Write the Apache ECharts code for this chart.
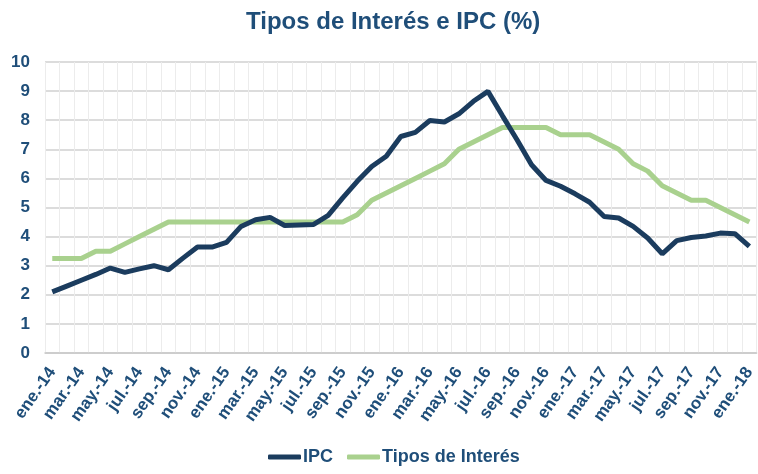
<!DOCTYPE html>
<html><head><meta charset="utf-8">
<script src="https://cdn.jsdelivr.net/npm/echarts@6/dist/echarts.min.js"></script>
<style>html,body{margin:0;padding:0;background:#fff}#c{width:758px;height:474px}</style>
</head><body><div id="c"></div>
<script>
const months = ['ene.','feb.','mar.','abr.','may.','jun.','jul.','ago.','sep.','oct.','nov.','dic.'];
const categories = [];
for (let y = 14; y <= 18; y++) for (let m = 0; m < 12; m++) { if (y === 18 && m > 0) break; categories.push(months[m] + '-' + y); }
const ipc = [2.1,2.3,2.5,2.7,2.92,2.77,2.89,3.0,2.86,3.26,3.64,3.64,3.8,4.35,4.58,4.66,4.38,4.4,4.42,4.73,5.33,5.9,6.41,6.76,7.44,7.58,7.99,7.94,8.22,8.65,8.99,8.15,7.33,6.47,5.93,5.73,5.47,5.18,4.69,4.64,4.35,3.95,3.41,3.86,3.97,4.02,4.12,4.1,3.66];
const tipos = [3.25,3.25,3.25,3.5,3.5,3.75,4.0,4.25,4.5,4.5,4.5,4.5,4.5,4.5,4.5,4.5,4.5,4.5,4.5,4.5,4.5,4.75,5.25,5.5,5.75,6.0,6.25,6.5,7.0,7.25,7.5,7.75,7.75,7.75,7.75,7.5,7.5,7.5,7.25,7.0,6.5,6.25,5.75,5.5,5.25,5.25,5.0,4.75,4.5];
const seriesNames = ['IPC','Tipos de Interés'];
const txt = '#1F4E79';
const ff = 'Liberation Sans, Arial';
const chart = echarts.init(document.getElementById('c'), null, {renderer:'canvas'});
chart.setOption({
  animation:false,
  title:{text:'Tipos de Interés e IPC (%)', left:241, top:5,
    textStyle:{fontFamily:ff, fontWeight:'bold', fontSize:24, color:txt}},
  legend:{bottom:3, left:263, itemWidth:33, itemHeight:5, itemGap:14,
    icon:'roundRect',
    textStyle:{fontFamily:ff, fontWeight:'bold', fontSize:18, color:txt, padding:[0,0,0,-3]},
    data:seriesNames},
  grid:{left:45, top:62, width:716, height:291, containLabel:false},
  xAxis:{type:'category', data:categories, boundaryGap:true,
    axisLine:{lineStyle:{color:'#c8c8c8', width:1.5}},
    axisTick:{interval:1, length:5, lineStyle:{color:'#c8c8c8', width:1.5}},
    axisLabel:{interval:1, rotate:55, margin:16, fontFamily:ff, fontWeight:'bold', fontSize:17, color:txt},
    splitLine:{show:true, interval:0, lineStyle:{color:'#ececec', width:1}}},
  yAxis:{type:'value', min:0, max:10, interval:1,
    axisLine:{show:false}, axisTick:{show:false},
    axisLabel:{margin:15, fontFamily:ff, fontWeight:'bold', fontSize:17, color:txt},
    splitLine:{lineStyle:{color:'#d0d0d0', width:1.5}}},
  series:[
    {name:seriesNames[1], type:'line', data:tipos, symbol:'none', lineStyle:{width:5, color:'#A9D18E'}, itemStyle:{color:'#A9D18E'}, z:2},
    {name:seriesNames[0], type:'line', data:ipc, symbol:'none', lineStyle:{width:5, color:'#1B3C5E'}, itemStyle:{color:'#1B3C5E'}, z:3}
  ]
});
</script></body></html>
